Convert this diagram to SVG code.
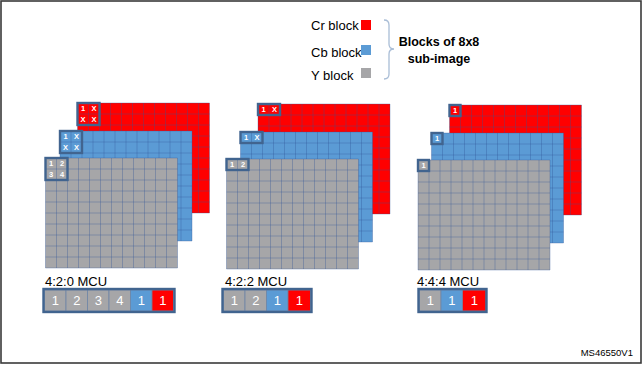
<svg xmlns="http://www.w3.org/2000/svg" xmlns:xlink="http://www.w3.org/1999/xlink" width="643" height="366" viewBox="0 0 643 366">
<style>
.bg{fill:#ffffff}
.frame{fill:none;stroke:#3a3a3a;stroke-width:1.6}
.cr{fill:#ff0000}
.cb{fill:#5b9bd5}
.y{fill:#a6a6a8}
.gl{fill:none;stroke:#2f5597;stroke-opacity:0.42;stroke-width:0.8}
.hl{fill:none;stroke:#41648f;stroke-width:2.4}
.ht{font-family:"Liberation Sans",Arial,sans-serif;font-size:7.5px;font-weight:bold;fill:#ffffff;text-anchor:middle}
.lbl{font-family:"Liberation Sans",Arial,sans-serif;font-size:13px;fill:#000000}
.bold{font-family:"Liberation Sans",Arial,sans-serif;font-size:12.5px;font-weight:bold;fill:#000000;text-anchor:middle}
.box{fill:none;stroke:#41648f;stroke-width:2.4}
.cell{stroke:#6f86a6;stroke-width:0.8}
.num{font-family:"Liberation Sans",Arial,sans-serif;font-size:13px;fill:#ffffff;text-anchor:middle}
.brace{fill:none;stroke:#a9bdd6;stroke-width:1.3}
.id{font-family:"Liberation Sans",Arial,sans-serif;font-size:9.5px;fill:#000000;text-anchor:end}
</style>
<defs>
<path id="gl" d="M0 0V110M11 0V110M22 0V110M33 0V110M44 0V110M55 0V110M66 0V110M77 0V110M88 0V110M99 0V110M110 0V110M121 0V110M132 0V110M0 0H132M0 11H132M0 22H132M0 33H132M0 44H132M0 55H132M0 66H132M0 77H132M0 88H132M0 99H132M0 110H132"/>
</defs>
<rect class="bg" width="643" height="366"/>
<rect class="frame" x="1" y="1" width="640" height="362"/>

<g id="legend">
  <g id="legend-cr"><text class="lbl" x="311" y="30">Cr block</text><rect class="cr" x="361" y="20" width="10" height="10"/></g>
  <g id="legend-cb"><text class="lbl" x="311" y="57">Cb block</text><rect class="cb" x="361" y="45" width="10" height="10"/></g>
  <g id="legend-y"><text class="lbl" x="311" y="80">Y block</text><rect class="y" x="361" y="68" width="10" height="10"/></g>
  <g id="legend-title"><text class="bold" x="439" y="46">Blocks of 8x8</text><text class="bold" x="439" y="63">sub-image</text></g>
</g>

<g id="connectors">
  <path class="brace" d="M384 20Q389 20 389 25L389 44Q389 49 394 49Q389 49 389 54L389 74Q389 79 384 79"/>
</g>

<g id="g420">
  <g id="g420-cr" transform="translate(77.5,103)">
    <rect class="cr" width="132" height="110"/><use xlink:href="#gl" class="gl"/>
    <rect class="hl" width="22" height="22"/>
    <text class="ht" x="5.5" y="8.4">1</text><text class="ht" x="16.5" y="8.4">X</text>
    <text class="ht" x="5.5" y="19.4">X</text><text class="ht" x="16.5" y="19.4">X</text>
  </g>
  <g id="g420-cb" transform="translate(60,131)">
    <rect class="cb" width="132" height="110"/><use xlink:href="#gl" class="gl"/>
    <rect class="hl" width="22" height="22"/>
    <text class="ht" x="5.5" y="8.4">1</text><text class="ht" x="16.5" y="8.4">X</text>
    <text class="ht" x="5.5" y="19.4">X</text><text class="ht" x="16.5" y="19.4">X</text>
  </g>
  <g id="g420-y" transform="translate(45.5,158)">
    <rect class="y" width="132" height="110"/><use xlink:href="#gl" class="gl"/>
    <rect class="hl" width="22" height="22"/>
    <text class="ht" x="5.5" y="8.4">1</text><text class="ht" x="16.5" y="8.4">2</text>
    <text class="ht" x="5.5" y="19.4">3</text><text class="ht" x="16.5" y="19.4">4</text>
  </g>
</g>

<g id="g422">
  <g id="g422-cr" transform="translate(258,104)">
    <rect class="cr" width="132" height="110"/><use xlink:href="#gl" class="gl"/>
    <rect class="hl" width="22" height="11"/>
    <text class="ht" x="5.5" y="8.4">1</text><text class="ht" x="16.5" y="8.4">X</text>
  </g>
  <g id="g422-cb" transform="translate(240.5,132)">
    <rect class="cb" width="132" height="110"/><use xlink:href="#gl" class="gl"/>
    <rect class="hl" width="22" height="11"/>
    <text class="ht" x="5.5" y="8.4">1</text><text class="ht" x="16.5" y="8.4">X</text>
  </g>
  <g id="g422-y" transform="translate(226.5,159)">
    <rect class="y" width="132" height="110"/><use xlink:href="#gl" class="gl"/>
    <rect class="hl" width="22" height="11"/>
    <text class="ht" x="5.5" y="8.4">1</text><text class="ht" x="16.5" y="8.4">2</text>
  </g>
</g>

<g id="g444">
  <g id="g444-cr" transform="translate(449.5,105)">
    <rect class="cr" width="132" height="110"/><use xlink:href="#gl" class="gl"/>
    <rect class="hl" width="11" height="11"/>
    <text class="ht" x="5.5" y="8.4">1</text>
  </g>
  <g id="g444-cb" transform="translate(431.5,133)">
    <rect class="cb" width="132" height="110"/><use xlink:href="#gl" class="gl"/>
    <rect class="hl" width="11" height="11"/>
    <text class="ht" x="5.5" y="8.4">1</text>
  </g>
  <g id="g444-y" transform="translate(418,160)">
    <rect class="y" width="132" height="110"/><use xlink:href="#gl" class="gl"/>
    <rect class="hl" width="11" height="11"/>
    <text class="ht" x="5.5" y="8.4">1</text>
  </g>
</g>

<g id="mcu420">
  <text class="lbl" x="45" y="286">4:2:0 MCU</text>
  <rect class="cell y" x="44.5" y="290" width="21.5" height="21"/>
  <rect class="cell y" x="66" y="290" width="21.5" height="21"/>
  <rect class="cell y" x="87.5" y="290" width="21.5" height="21"/>
  <rect class="cell y" x="109" y="290" width="21.5" height="21"/>
  <rect class="cell cb" x="130.5" y="290" width="21.5" height="21"/>
  <rect class="cell cr" x="152" y="290" width="21.5" height="21"/>
  <rect class="box" x="43.5" y="289" width="131" height="23"/>
  <text class="num" x="55.25" y="305">1</text>
  <text class="num" x="76.75" y="305">2</text>
  <text class="num" x="98.25" y="305">3</text>
  <text class="num" x="119.75" y="305">4</text>
  <text class="num" x="141.25" y="305">1</text>
  <text class="num" x="162.75" y="305">1</text>
</g>

<g id="mcu422">
  <text class="lbl" x="225" y="286">4:2:2 MCU</text>
  <rect class="cell y" x="223.5" y="290" width="21.5" height="21"/>
  <rect class="cell y" x="245" y="290" width="21.5" height="21"/>
  <rect class="cell cb" x="266.5" y="290" width="21.5" height="21"/>
  <rect class="cell cr" x="288" y="290" width="22.5" height="21"/>
  <rect class="box" x="222.5" y="289" width="89" height="23"/>
  <text class="num" x="234.25" y="305">1</text>
  <text class="num" x="255.75" y="305">2</text>
  <text class="num" x="277.25" y="305">1</text>
  <text class="num" x="299.25" y="305">1</text>
</g>

<g id="mcu444">
  <text class="lbl" x="417" y="286">4:4:4 MCU</text>
  <rect class="cell y" x="419.5" y="290" width="21.5" height="21"/>
  <rect class="cell cb" x="441" y="290" width="21.5" height="21"/>
  <rect class="cell cr" x="462.5" y="290" width="23.5" height="21"/>
  <rect class="box" x="418.5" y="289" width="68" height="23"/>
  <text class="num" x="430.25" y="305">1</text>
  <text class="num" x="451.75" y="305">1</text>
  <text class="num" x="474.25" y="305">1</text>
</g>

<text class="id" x="633" y="356">MS46550V1</text>
</svg>
